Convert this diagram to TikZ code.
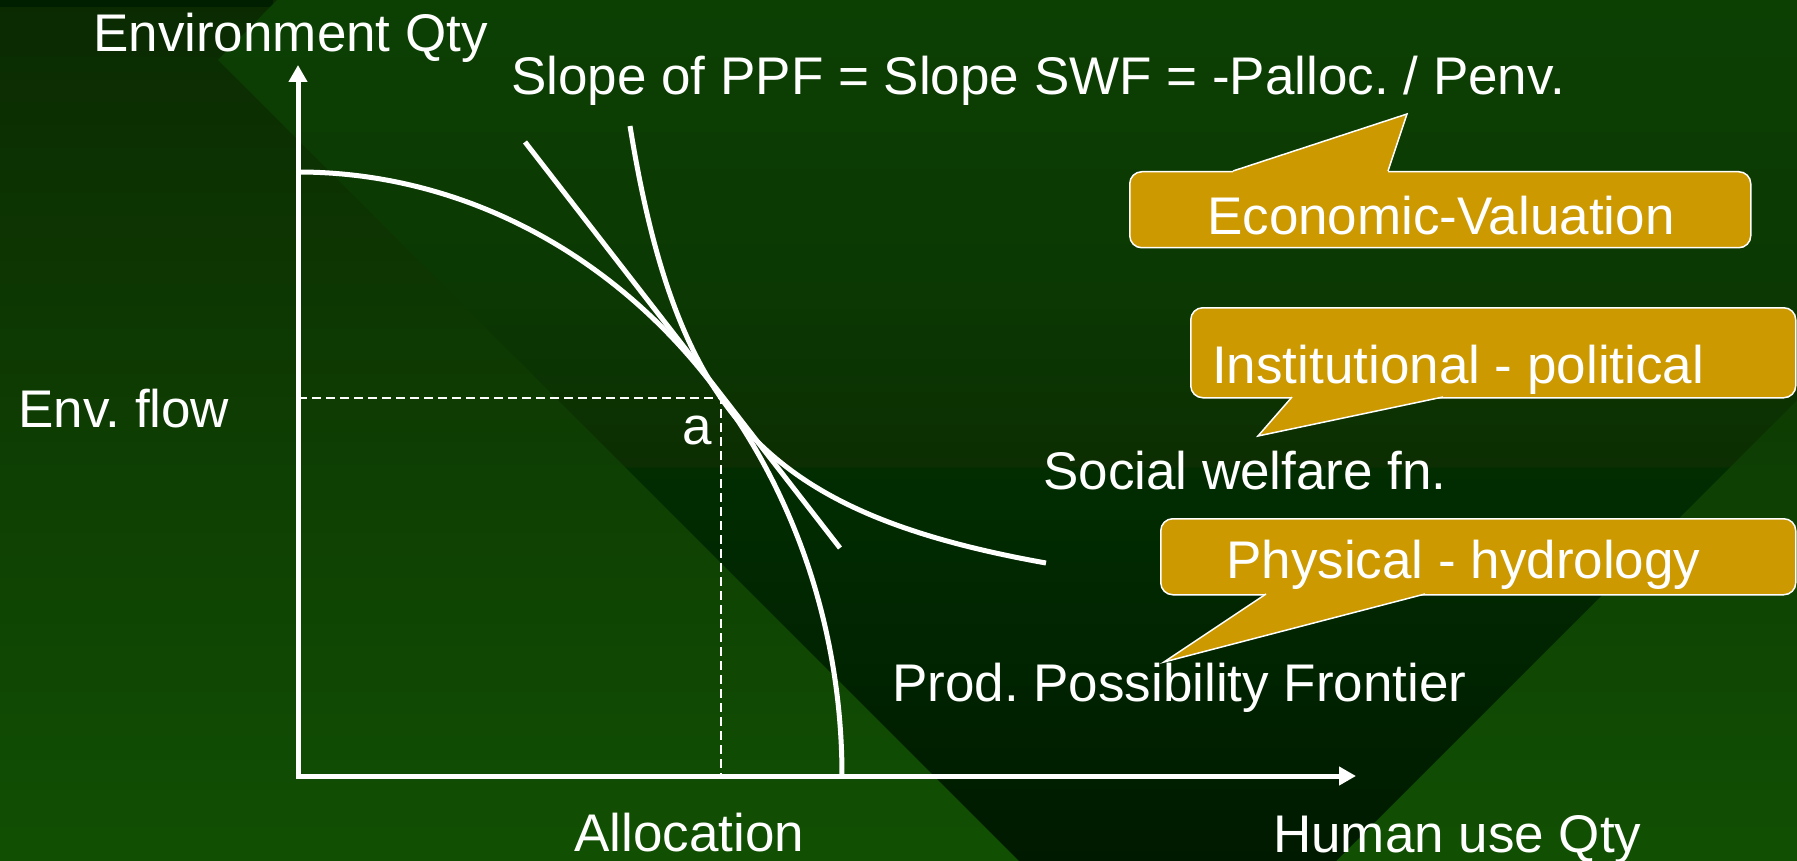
\documentclass[tikz,border=0pt]{standalone}
\usepackage{fontspec}
\setmainfont{Liberation Sans}
\usetikzlibrary{arrows.meta}
\definecolor{wz}{HTML}{0C4003}
\definecolor{wa}{HTML}{0B3803}
\definecolor{wb}{HTML}{0C2E02}
\definecolor{wc}{HTML}{012D01}
\definecolor{wd}{HTML}{001A00}
\definecolor{btop}{HTML}{0B2A02}
\definecolor{bmid}{HTML}{104803}
\definecolor{bbot}{HTML}{115003}
\definecolor{cgold}{HTML}{CC9900}
\definecolor{stripc}{HTML}{001E00}
\pgfdeclareverticalshading{wedgeshade}{100bp}{color(0bp)=(wd); color(25bp)=(wd); color(47.82bp)=(wc); color(47.94bp)=(wb); color(57.58bp)=(wa); color(75bp)=(wz); color(100bp)=(wz)}
\frenchspacing
\begin{document}
\begin{tikzpicture}[x=1pt,y=-1pt,
  lbl/.style={text=white, inner sep=0pt, anchor=base west, font=\fontsize{53}{64}\selectfont\frenchspacing},
  curve/.style={draw=white, line width=5pt},
  axisline/.style={draw=white, line width=5pt, {Triangle[length=17pt,width=18pt]}-{Triangle[length=17pt,width=18pt]}},
  guide/.style={draw=white, line width=2pt, dash pattern=on 9pt off 5pt},
  callbox/.style={draw=white, line width=1.5pt, fill=cgold, rounded corners=12pt, inner sep=0pt, anchor=north west},
  tailfill/.style={fill=cgold},
  tailedge/.style={draw=white, line width=1.5pt}]
\useasboundingbox (0,0) rectangle (1797,861);
% background
\shade[top color=btop, middle color=bmid, bottom color=bbot] (0,0) rectangle (1797,861);
\fill[stripc] (0,0) rectangle (273,7);
\shade[shading=wedgeshade] (277,0) -- (1797,0) -- (1797,400) -- (1336,861) -- (1019,861) -- (218,60) -- cycle;

% coordinates
\coordinate (O) at (298,776);
\coordinate (ytip) at (298,65);
\coordinate (xtip) at (1356,776);
\coordinate (a) at (721,398);
\coordinate (ay) at (298,398);
\coordinate (ax) at (721,776);
\coordinate (t1) at (525,142);
\coordinate (t2) at (840,548);

% guides
\draw[guide] (ay) -- (a) -- (ax);

% curves
\draw[curve] plot[domain=0:90, samples=91, smooth] ({298+544*cos(\x)}, {776-604*sin(\x)});
\draw[curve] plot[domain=630:1046, samples=140, smooth] (\x, {652.4-447.97/((\x-544.9)/100)});
\draw[curve] (t1) -- (t2);

% axes
\draw[axisline] (ytip) -- (O) -- (xtip);

% labels
\node[lbl] (envqty) at (93,52) {Environment Qty};
\node[lbl] (slope) at (511,95) {Slope of PPF = Slope SWF = -Palloc. / Penv.};
\node[lbl] (envflow) at (18,427) {Env. flow};
\node[lbl] (alab) at (682,444) {a};
\node[lbl] (swf) at (1043,489) {Social welfare fn.};
\node[lbl] (ppf) at (892,701) {Prod. Possibility Frontier};
\node[lbl] (alloc) at (574,851) {Allocation};
\node[lbl] (human) at (1273,852) {Human use Qty};

% callout 1
\node[callbox, minimum width=621pt, minimum height=76pt] (econbox) at (1129,171) {};
\coordinate (e1) at (1233,171);
\coordinate (e2) at (1388,171);
\coordinate (etip) at (1407,114);
\fill[tailfill] (e1) -- (etip) -- (e2) -- (1388,175) -- (1233,175) -- cycle;
\draw[tailedge] (e1) -- (etip) -- (e2);
\node[lbl] (econ) at (1207,235) {Economic-Valuation};

% callout 2
\node[callbox, minimum width=605pt, minimum height=90pt] (instbox) at (1190,307) {};
\coordinate (i1) at (1292,397);
\coordinate (i2) at (1443,397);
\coordinate (itip) at (1258,436);
\fill[tailfill] (i1) -- (itip) -- (i2) -- (1443,393) -- (1292,393) -- cycle;
\draw[tailedge] (i1) -- (itip) -- (i2);
\node[lbl] (inst) at (1212,383) {Institutional - political};

% callout 3
\node[callbox, minimum width=635pt, minimum height=76pt] (physbox) at (1160,518) {};
\coordinate (p1) at (1266,594);
\coordinate (p2) at (1425,594);
\coordinate (ptip) at (1164,662);
\fill[tailfill] (p1) -- (ptip) -- (p2) -- (1425,590) -- (1266,590) -- cycle;
\draw[tailedge] (p1) -- (ptip) -- (p2);
\node[lbl] (phys) at (1226,578) {Physical - hydrology};
\end{tikzpicture}
\end{document}
